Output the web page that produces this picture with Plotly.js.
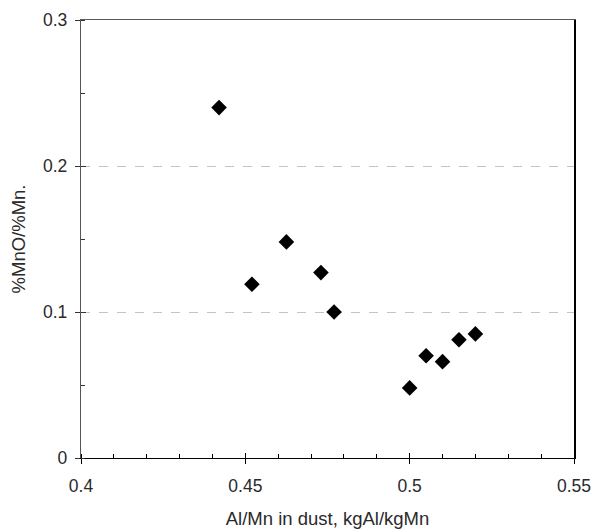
<!DOCTYPE html>
<html>
<head>
<meta charset="utf-8">
<script src="https://cdn.plot.ly/plotly-3.0.1.min.js"></script>
<style>html,body{margin:0;padding:0;background:#fff;}#chart{width:595px;height:529px;}</style>
</head>
<body>
<div id="chart"></div>
<script>
// Data
var alMnRatio = [0.442, 0.452, 0.4625, 0.473, 0.477, 0.500, 0.505, 0.510, 0.515, 0.520];
var mnoMnRatio = [0.240, 0.119, 0.148, 0.127, 0.100, 0.048, 0.070, 0.066, 0.081, 0.085];
var xTickVals = [0.4, 0.45, 0.5, 0.55];
var xTickText = ["0.4", "0.45", "0.5", "0.55"];
var yTickVals = [0, 0.1, 0.2, 0.3];
var yTickText = ["0", "0.1", "0.2", "0.3"];
var xTitle = "Al/Mn in dust, kgAl/kgMn";
var yTitle = "%MnO/%Mn.";

var FONT = "Liberation Sans, Arial, sans-serif";
var TXT = "#2a2a2a";

var traces = [
  {
    x: alMnRatio, y: mnoMnRatio, type: "scatter", mode: "markers",
    marker: {symbol: "diamond", size: 12, color: "#000", line: {width: 0}},
    hoverinfo: "x+y", showlegend: false
  },
  { x: [], y: [], xaxis: "x2", yaxis: "y2", type: "scatter", mode: "markers", showlegend: false, hoverinfo: "skip" },
  { x: [], y: [], xaxis: "x3", yaxis: "y3", type: "scatter", mode: "markers", showlegend: false, hoverinfo: "skip" }
];

var layout = {
  width: 595, height: 529,
  margin: {l: 81, r: 21, t: 20, b: 71, pad: 0},
  paper_bgcolor: "#fff", plot_bgcolor: "#fff",
  font: {family: FONT, size: 17, color: TXT},
  showlegend: false,
  xaxis: {
    range: [0.4, 0.55], tickvals: xTickVals, ticktext: xTickText,
    ticks: "outside", ticklen: 5, tickwidth: 1, tickcolor: "#000",
    minor: {ticks: "inside", dtick: 0.01, ticklen: 4, tickwidth: 1, tickcolor: "#000", showgrid: false},
    showline: true, linecolor: "#000", linewidth: 1.2,
    showgrid: false, zeroline: false, fixedrange: true,
    ticklabelstandoff: 7,
    tickfont: {family: FONT, size: 17.5, color: TXT},
    title: {text: xTitle, font: {family: FONT, size: 18.5, color: TXT}, standoff: 20}
  },
  yaxis: {
    range: [0, 0.3], tickvals: yTickVals, ticktext: yTickText,
    ticks: "outside", ticklen: 5, tickwidth: 1, tickcolor: "#333",
    minor: {ticks: "inside", dtick: 0.05, ticklen: 4, tickwidth: 1, tickcolor: "#333", showgrid: false},
    showline: true, linecolor: "#555", linewidth: 1.2,
    showgrid: true, gridcolor: "#c4c4c4", griddash: "dash", gridwidth: 1,
    zeroline: false, fixedrange: true,
    ticklabelstandoff: 4,
    tickfont: {family: FONT, size: 17.5, color: TXT},
    title: {text: yTitle, font: {family: FONT, size: 18.5, color: TXT}, standoff: 12}
  },
  // overlay axes: inner halves of major ticks + top/right frame
  xaxis2: {
    overlaying: "x", anchor: "y", side: "bottom", range: [0.4, 0.55], tickvals: xTickVals,
    showticklabels: false, ticks: "inside", ticklen: 5, tickwidth: 1, tickcolor: "#000",
    showline: false, showgrid: false, zeroline: false, fixedrange: true
  },
  yaxis2: {
    overlaying: "y", anchor: "x", side: "left", range: [0, 0.3], tickvals: yTickVals,
    showticklabels: false, ticks: "inside", ticklen: 5, tickwidth: 1, tickcolor: "#333",
    showline: false, showgrid: false, zeroline: false, fixedrange: true
  },
  xaxis3: {
    overlaying: "x", anchor: "y", side: "top", range: [0.4, 0.55],
    showticklabels: false, ticks: "", showline: true, linecolor: "#5a5a5a", linewidth: 1.5,
    showgrid: false, zeroline: false, fixedrange: true
  },
  yaxis3: {
    overlaying: "y", anchor: "x", side: "right", range: [0, 0.3],
    showticklabels: false, ticks: "", showline: true, linecolor: "#000", linewidth: 1.5,
    showgrid: false, zeroline: false, fixedrange: true
  }
};

Plotly.newPlot("chart", traces, layout, {displayModeBar: false, staticPlot: true});
</script>
</body>
</html>
